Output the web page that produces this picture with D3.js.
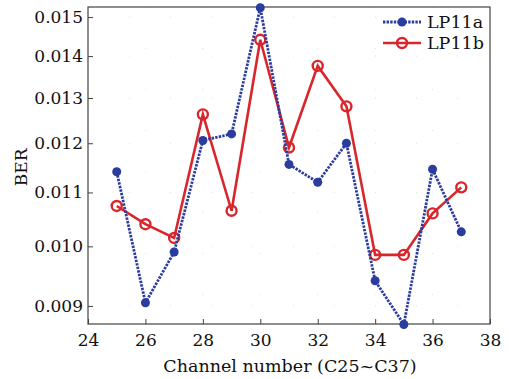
<!DOCTYPE html>
<html>
<head>
<meta charset="utf-8">
<style>
body { margin: 0; background: #fff; }
svg { display: block; }
text { font-family: "DejaVu Serif", "Liberation Serif", serif; fill: #111; }
</style>
</head>
<body>
<div id="chart"></div>
<script src="https://d3js.org/d3.v7.min.js"></script>
<script>

var channels = [25, 26, 27, 28, 29, 30, 31, 32, 33, 34, 35, 36, 37]
var lp11a = [0.01141, 0.00905, 0.00990, 0.01206, 0.01220, 0.01525, 0.01156, 0.01120, 0.01200, 0.00941, 0.00871, 0.01146, 0.01026]
var lp11b = [0.01074, 0.01040, 0.01015, 0.01263, 0.01065, 0.01441, 0.01191, 0.01376, 0.01281, 0.00985, 0.00985, 0.01060, 0.01110]
var xTicks = [24, 26, 28, 30, 32, 34, 36, 38]
var yTicks = [0.009, 0.010, 0.011, 0.012, 0.013, 0.014, 0.015]

var blue = "#2a3c9e"
var red = "#d8262c"

var margin = {top: 7, right: 19, bottom: 55, left: 88}
var W = 509, H = 379
var width = W - margin.left - margin.right,
    height = H - margin.top - margin.bottom

var svg = d3.select("#chart")
  .append("svg")
  .attr("width", W)
  .attr("height", H)

var g = svg.append("g")
  .attr("transform", "translate(" + margin.left + "," + margin.top + ")")

var x = d3.scaleLinear().domain([24, 38]).range([0, width])
var y = d3.scaleLog().domain([0.008717, 0.01527]).range([height, 0])

// faint dotted grid
g.selectAll(".gx").data(xTicks.slice(1, -1)).enter().append("line")
  .attr("x1", d => x(d)).attr("x2", d => x(d))
  .attr("y1", 0).attr("y2", height)
  .attr("stroke", "#d8d8c8").attr("stroke-width", 0.8)
  .attr("stroke-dasharray", "1,40")
g.selectAll(".gy").data(yTicks).enter().append("line")
  .attr("x1", 0).attr("x2", width)
  .attr("y1", d => y(d)).attr("y2", d => y(d))
  .attr("stroke", "#d8d8c8").attr("stroke-width", 0.8)
  .attr("stroke-dasharray", "1,40")

// axes (inward ticks)
var xAxis = d3.axisBottom(x).tickValues(xTicks).tickFormat(d3.format("d"))
  .tickSizeInner(-5).tickSizeOuter(0).tickPadding(10)
var yAxis = d3.axisLeft(y).tickValues(yTicks).tickFormat(d3.format(".3f"))
  .tickSizeInner(-5).tickSizeOuter(0).tickPadding(5)

var gx = g.append("g").attr("transform", "translate(0," + height + ")").call(xAxis)
var gy = g.append("g").call(yAxis)
gx.select(".domain").remove()
gy.select(".domain").remove()
g.selectAll(".tick line").attr("stroke", "#444")
g.selectAll(".tick text").style("font-family", '"DejaVu Serif", serif')
  .style("font-size", "17px").attr("fill", "#111")

// frame
g.append("rect")
  .attr("width", width).attr("height", height)
  .attr("fill", "none").attr("stroke", "#444").attr("stroke-width", 1.2)

// axis titles
g.append("text")
  .attr("x", width / 2 + 1).attr("y", height + 48)
  .attr("text-anchor", "middle")
  .style("font-size", "17.5px")
  .text("Channel number (C25~C37)")

g.append("text")
  .attr("transform", "translate(-61," + (y(0.0115)) + ") rotate(-90)")
  .attr("text-anchor", "middle")
  .style("font-size", "17px")
  .text("BER")

var line = d3.line().x(d => x(d[0])).y(d => y(d[1]))
var aData = channels.map((c, i) => [c, lp11a[i]])
var bData = channels.map((c, i) => [c, lp11b[i]])

// LP11b (red, solid, open circles)
g.append("path").datum(bData)
  .attr("d", line).attr("fill", "none")
  .attr("stroke", red).attr("stroke-width", 2.6)
g.selectAll(".mb").data(bData).enter().append("circle")
  .attr("cx", d => x(d[0])).attr("cy", d => y(d[1]))
  .attr("r", 5).attr("fill", "none")
  .attr("stroke", red).attr("stroke-width", 2.4)

// LP11a (blue, dotted, filled dots)
g.append("path").datum(aData)
  .attr("d", line).attr("fill", "none")
  .attr("stroke", blue).attr("stroke-width", 2.8)
  .attr("stroke-dasharray", "2.4,1.2")
g.selectAll(".ma").data(aData).enter().append("circle")
  .attr("cx", d => x(d[0])).attr("cy", d => y(d[1]))
  .attr("r", 4.5).attr("fill", blue)

// legend
var leg = g.append("g").attr("transform", "translate(" + (width - 107) + ",15)")
leg.append("line").attr("x1", 0).attr("x2", 38).attr("y1", 0).attr("y2", 0)
  .attr("stroke", blue).attr("stroke-width", 2.8).attr("stroke-dasharray", "2.4,1.2")
leg.append("circle").attr("cx", 19).attr("cy", 0).attr("r", 4.5).attr("fill", blue)
leg.append("text").attr("x", 44).attr("y", 6).style("font-size", "17.5px").text("LP11a")

leg.append("line").attr("x1", 0).attr("x2", 38).attr("y1", 21).attr("y2", 21)
  .attr("stroke", red).attr("stroke-width", 2.6)
leg.append("circle").attr("cx", 19).attr("cy", 21).attr("r", 5)
  .attr("fill", "none").attr("stroke", red).attr("stroke-width", 2.4)
leg.append("text").attr("x", 44).attr("y", 27).style("font-size", "17.5px").text("LP11b")

</script>
</body>
</html>
